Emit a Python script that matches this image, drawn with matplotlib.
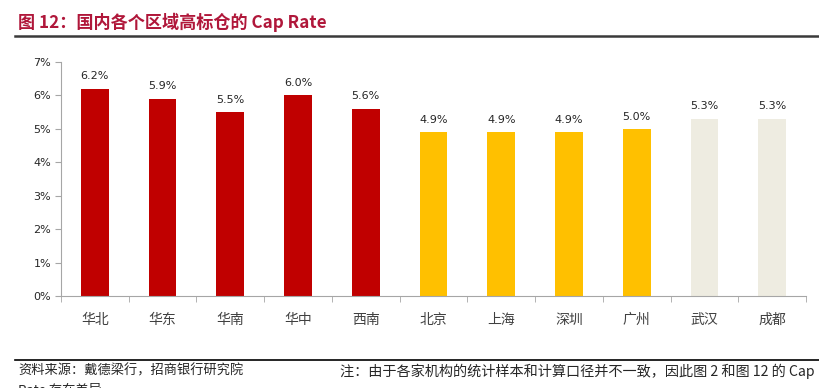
import matplotlib.pyplot as plt
from matplotlib.lines import Line2D

plt.rcParams['font.family'] = ['Noto Sans CJK SC', 'DejaVu Sans']

regions = ['华北', '华东', '华南', '华中', '西南', '北京', '上海', '深圳', '广州', '武汉', '成都']
cap_rate = [6.2, 5.9, 5.5, 6.0, 5.6, 4.9, 4.9, 4.9, 5.0, 5.3, 5.3]
bar_colors = ['#C00000'] * 5 + ['#FFC000'] * 4 + ['#EEECE1'] * 2
y_ticks = [0, 1, 2, 3, 4, 5, 6, 7]

fig = plt.figure(figsize=(8.2, 3.88), dpi=100)
W, H = 820, 388

ax = fig.add_axes([61 / W, 1 - 296 / H, (806 - 61) / W, (296 - 62) / H])
x = list(range(len(regions)))
ax.bar(x, cap_rate, width=0.41, color=bar_colors)
for xi, v in zip(x, cap_rate):
    ax.text(xi, v + 0.22, f'{v:.1f}%', ha='center', va='bottom', fontsize=8,
            color='#262626', family=['DejaVu Sans'])

ax.set_xlim(-0.5, len(regions) - 0.5)
ax.set_ylim(0, 7)
ax.set_yticks(y_ticks)
ax.set_yticklabels([f'{t}%' for t in y_ticks], fontsize=8, color='#262626',
                   family=['DejaVu Sans'])
ax.set_xticks(x)
ax.set_xticklabels(regions, fontsize=10, color='#404040')
ax.set_xticks([i - 0.5 for i in range(len(regions) + 1)], minor=True)
ax.tick_params(axis='x', which='major', length=0, pad=12)
ax.tick_params(axis='x', which='minor', length=4, color='#A6A6A6')
ax.tick_params(axis='y', length=4, color='#A6A6A6', pad=3)
for s in ['top', 'right']:
    ax.spines[s].set_visible(False)
for s in ['left', 'bottom']:
    ax.spines[s].set_color('#A6A6A6')
    ax.spines[s].set_linewidth(0.8)

# title and rules
fig.text(18 / W, 1 - 22 / H, '图 12：国内各个区域高标仓的 Cap Rate', fontsize=12.3,
         color='#B0173A', fontweight='bold', va='center', ha='left')
fig.add_artist(Line2D([15 / W, 1], [1 - 36 / H] * 2, color='#3A3A3A', lw=1.8))
fig.add_artist(Line2D([15 / W, 1], [1 - 360 / H] * 2, color='#000000', lw=1.2))

# footer
fig.text(18 / W, 1 - 371 / H, '资料来源：戴德梁行，招商银行研究院', fontsize=9.5,
         color='#262626', va='center', ha='left')
fig.text(340 / W, 1 - 371 / H, '注：由于各家机构的统计样本和计算口径并不一致，因此图 2 和图 12 的 Cap',
         fontsize=10.2, color='#262626', va='center', ha='left')
fig.text(18 / W, 1 - 390 / H, 'Rate 存在差异', fontsize=9.5,
         color='#262626', va='center', ha='left')

fig.savefig('out.png', dpi=100)
